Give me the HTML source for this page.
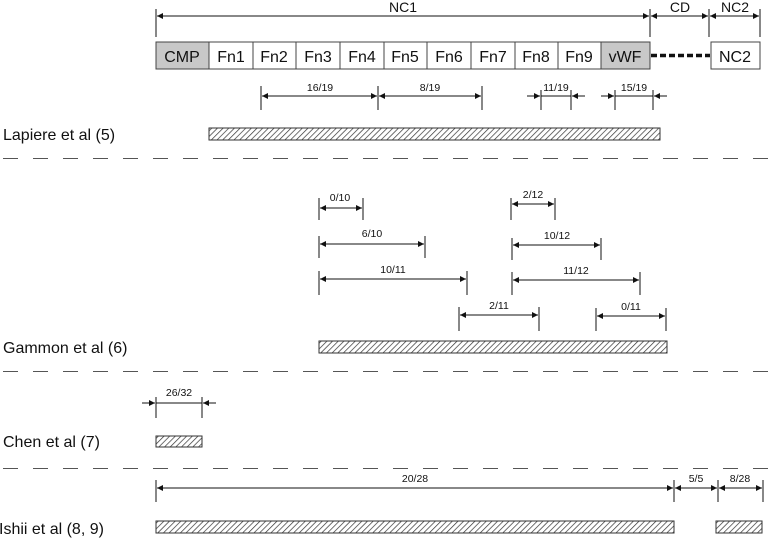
<!DOCTYPE html>
<html><head><meta charset="utf-8"><style>
html,body{margin:0;padding:0;background:#fff;}
svg{display:block;font-family:"Liberation Sans",Arial,sans-serif;}
</style></head><body>
<svg width="769" height="539" viewBox="0 0 769 539" xmlns="http://www.w3.org/2000/svg">
<defs>
<pattern id="h" width="4" height="4" patternUnits="userSpaceOnUse" patternTransform="rotate(45)">
<rect width="4" height="4" fill="#fff"/><line x1="0" y1="0" x2="0" y2="4" stroke="#333" stroke-width="1.4"/>
</pattern>
<marker id="a" viewBox="0 0 10 10" refX="10" refY="5" markerWidth="8" markerHeight="6" orient="auto-start-reverse" markerUnits="userSpaceOnUse">
<path d="M0,0 L10,5 L0,10 z" fill="#111"/></marker>
</defs>
<g stroke="#111" stroke-width="1" fill="none">
<line x1="156" y1="9" x2="156" y2="37"/><line x1="650" y1="9" x2="650" y2="37"/>
<line x1="709" y1="9" x2="709" y2="37"/><line x1="760" y1="9" x2="760" y2="37"/>
<line x1="157" y1="16" x2="649" y2="16" marker-start="url(#a)" marker-end="url(#a)"/>
<line x1="651" y1="16" x2="708" y2="16" marker-start="url(#a)" marker-end="url(#a)"/>
<line x1="710" y1="16" x2="759" y2="16" marker-start="url(#a)" marker-end="url(#a)"/>
</g>
<g font-size="14" fill="#111" text-anchor="middle">
<text x="403" y="12">NC1</text><text x="680" y="12">CD</text><text x="735" y="12">NC2</text>
</g>
<g stroke="#444" stroke-width="1">
<rect x="156" y="42" width="53" height="27" fill="#c8c8c8"/>
<rect x="209" y="42" width="44" height="27" fill="#fff"/>
<rect x="253" y="42" width="43" height="27" fill="#fff"/>
<rect x="296" y="42" width="44" height="27" fill="#fff"/>
<rect x="340" y="42" width="44" height="27" fill="#fff"/>
<rect x="384" y="42" width="43" height="27" fill="#fff"/>
<rect x="427" y="42" width="44" height="27" fill="#fff"/>
<rect x="471" y="42" width="44" height="27" fill="#fff"/>
<rect x="515" y="42" width="43" height="27" fill="#fff"/>
<rect x="558" y="42" width="43" height="27" fill="#fff"/>
<rect x="601" y="42" width="49" height="27" fill="#c8c8c8"/>
<rect x="711" y="42" width="49" height="27" fill="#fff"/>
</g>
<line x1="651" y1="55.5" x2="710" y2="55.5" stroke="#111" stroke-width="3.5" stroke-dasharray="6,3"/>
<g font-size="16" fill="#111" text-anchor="middle">
<text x="182" y="62">CMP</text><text x="231" y="62">Fn1</text><text x="274" y="62">Fn2</text>
<text x="318" y="62">Fn3</text><text x="362" y="62">Fn4</text><text x="405" y="62">Fn5</text>
<text x="449" y="62">Fn6</text><text x="493" y="62">Fn7</text><text x="536" y="62">Fn8</text>
<text x="579" y="62">Fn9</text><text x="625" y="62">vWF</text><text x="735" y="62">NC2</text>
</g>
<g stroke="#111" stroke-width="1" fill="none">
<line x1="261" y1="86" x2="261" y2="110"/><line x1="378" y1="86" x2="378" y2="110"/><line x1="482" y1="86" x2="482" y2="110"/>
<line x1="262" y1="96" x2="377" y2="96" marker-start="url(#a)" marker-end="url(#a)"/>
<line x1="379" y1="96" x2="481" y2="96" marker-end="url(#a)" marker-start="url(#a)"/>
<line x1="541" y1="90" x2="541" y2="110"/><line x1="571" y1="90" x2="571" y2="110"/>
<line x1="527" y1="96" x2="540" y2="96" marker-end="url(#a)"/><line x1="585" y1="96" x2="572" y2="96" marker-end="url(#a)"/>
<line x1="541" y1="96" x2="571" y2="96"/>
<line x1="615" y1="90" x2="615" y2="110"/><line x1="653" y1="90" x2="653" y2="110"/>
<line x1="601" y1="96" x2="614" y2="96" marker-end="url(#a)"/><line x1="667" y1="96" x2="654" y2="96" marker-end="url(#a)"/>
<line x1="615" y1="96" x2="653" y2="96"/>
<line x1="319" y1="198" x2="319" y2="220"/><line x1="363" y1="198" x2="363" y2="220"/>
<line x1="320" y1="208" x2="362" y2="208" marker-start="url(#a)" marker-end="url(#a)"/>
<line x1="319" y1="236" x2="319" y2="258"/><line x1="425" y1="236" x2="425" y2="258"/>
<line x1="320" y1="244" x2="424" y2="244" marker-start="url(#a)" marker-end="url(#a)"/>
<line x1="319" y1="271" x2="319" y2="295"/><line x1="467" y1="271" x2="467" y2="295"/>
<line x1="320" y1="279" x2="466" y2="279" marker-start="url(#a)" marker-end="url(#a)"/>
<line x1="459" y1="307" x2="459" y2="331"/><line x1="539" y1="307" x2="539" y2="331"/>
<line x1="460" y1="315" x2="538" y2="315" marker-start="url(#a)" marker-end="url(#a)"/>
<line x1="511" y1="198" x2="511" y2="220"/><line x1="555" y1="198" x2="555" y2="220"/>
<line x1="512" y1="204" x2="554" y2="204" marker-start="url(#a)" marker-end="url(#a)"/>
<line x1="512" y1="238" x2="512" y2="260"/><line x1="601" y1="238" x2="601" y2="260"/>
<line x1="513" y1="245" x2="600" y2="245" marker-start="url(#a)" marker-end="url(#a)"/>
<line x1="512" y1="272" x2="512" y2="295"/><line x1="640" y1="272" x2="640" y2="295"/>
<line x1="513" y1="280" x2="639" y2="280" marker-start="url(#a)" marker-end="url(#a)"/>
<line x1="596" y1="308" x2="596" y2="331"/><line x1="666" y1="308" x2="666" y2="331"/>
<line x1="597" y1="316" x2="665" y2="316" marker-start="url(#a)" marker-end="url(#a)"/>
<line x1="156" y1="397" x2="156" y2="418"/><line x1="202" y1="397" x2="202" y2="418"/>
<line x1="142" y1="403" x2="155" y2="403" marker-end="url(#a)"/><line x1="216" y1="403" x2="203" y2="403" marker-end="url(#a)"/>
<line x1="156" y1="403" x2="202" y2="403"/>
<line x1="156" y1="480" x2="156" y2="502"/><line x1="674" y1="480" x2="674" y2="502"/>
<line x1="718" y1="480" x2="718" y2="502"/><line x1="763" y1="480" x2="763" y2="502"/>
<line x1="157" y1="488" x2="673" y2="488" marker-start="url(#a)" marker-end="url(#a)"/>
<line x1="675" y1="488" x2="717" y2="488" marker-start="url(#a)" marker-end="url(#a)"/>
<line x1="719" y1="488" x2="762" y2="488" marker-start="url(#a)" marker-end="url(#a)"/>
</g>
<g font-size="10.5" fill="#111" text-anchor="middle">
<text x="320" y="91">16/19</text><text x="430" y="91">8/19</text>
<text x="556" y="91">11/19</text><text x="634" y="91">15/19</text>
<text x="340" y="201">0/10</text><text x="372" y="237">6/10</text><text x="393" y="273">10/11</text>
<text x="499" y="309">2/11</text><text x="533" y="198">2/12</text><text x="557" y="239">10/12</text>
<text x="576" y="274">11/12</text><text x="631" y="310">0/11</text>
<text x="179" y="396">26/32</text>
<text x="415" y="482">20/28</text><text x="696" y="482">5/5</text><text x="740" y="482">8/28</text>
</g>
<g stroke="#333" stroke-width="1" fill="url(#h)">
<rect x="209" y="128" width="451" height="12"/>
<rect x="319" y="341" width="348" height="12"/>
<rect x="156" y="436" width="46" height="11"/>
<rect x="156" y="521" width="518" height="12"/>
<rect x="716" y="521" width="46" height="12"/>
</g>
<g stroke="#555" stroke-width="1" stroke-dasharray="15,15">
<line x1="3" y1="158.5" x2="769" y2="158.5"/>
<line x1="3" y1="371.5" x2="769" y2="371.5"/>
<line x1="3" y1="468.5" x2="769" y2="468.5"/>
</g>
<g font-size="16" fill="#111">
<text x="3" y="140">Lapiere et al (5)</text>
<text x="3" y="353">Gammon et al (6)</text>
<text x="3" y="447">Chen et al (7)</text>
<text x="-1" y="534">Ishii et al (8, 9)</text>
</g>
</svg>
</body></html>
